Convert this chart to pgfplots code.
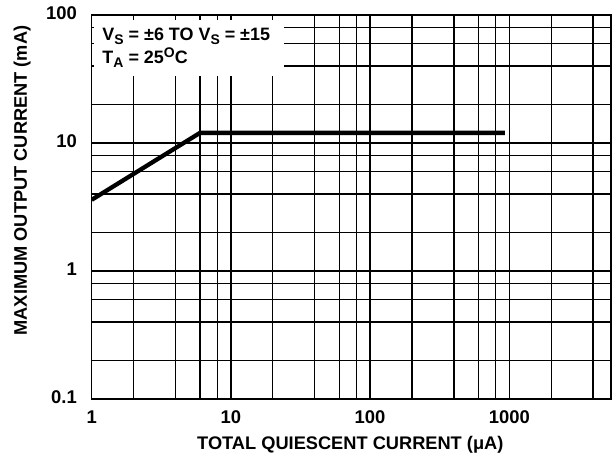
\documentclass[border=0pt]{standalone}
\usepackage{pgfplots}
\pgfplotsset{compat=1.18}
\usepackage{fontspec}
\setmainfont{Liberation Sans}
\newcommand{\sub}[1]{\raisebox{-4bp}{\fontsize{14}{14}\selectfont #1}}
\newcommand{\sps}[1]{\raisebox{5.5bp}{\fontsize{14}{14}\selectfont #1}}
\begin{document}
\begin{tikzpicture}
\path[use as bounding box] (-91.7bp,-59bp) rectangle (524.3bp,399bp);
\begin{axis}[
  at={(0,0)}, anchor=south west,
  scale only axis, width=519.3bp, height=384bp,
  xmode=log, ymode=log,
  xmin=1, xmax=5380, ymin=0.1, ymax=100,
  xtick={1,10,100,1000}, xticklabels={1,10,100,1000},
  ytick={0.1,1,10,100}, yticklabels={0.1,1,10,100},
  minor xtick={2,4,6,8,20,40,60,80,200,400,600,800,2000,4000},
  minor ytick={0.2,0.4,0.6,0.8,2,4,6,8,20,40,60,80},
  grid=both,
  major grid style={black, line width=1.3bp},
  minor grid style={black, line width=1.3bp},
  major tick length=0pt, minor tick length=0pt,
  axis line style={black, line width=1.5bp},
  /pgf/number format/assume math mode=true,
  tick label style={font=\fontsize{18.5}{18}\selectfont\bfseries, inner sep=0pt},
  xticklabel style={anchor=center, yshift=-18.5bp},
  yticklabel style={anchor=east, xshift=-14.7bp, yshift=2bp},
  xlabel={TOTAL QUIESCENT CURRENT (μA)},
  ylabel={MAXIMUM OUTPUT CURRENT (mA)},
  label style={font=\fontsize{18.3}{18}\selectfont\bfseries, inner sep=0pt},
  xlabel style={at={(axis description cs:0.498,-0.12)}, anchor=center},
  ylabel style={at={(axis description cs:-0.134,0.569)}, anchor=center},
]
\addplot[black, line width=4.3bp, line join=miter] coordinates {(1,3.6) (6,12) (930,12)};
\fill[white] (rel axis cs:0.0044,0.841) rectangle (rel axis cs:0.370,0.987);
\node[anchor=base west, inner sep=0pt, font=\fontsize{18}{18}\selectfont\bfseries]
  at (rel axis cs:0.0204,0.933) {V\sub{S} = ±6 TO V\sub{S} = ±15};
\node[anchor=base west, inner sep=0pt, font=\fontsize{18}{18}\selectfont\bfseries]
  at (rel axis cs:0.0204,0.874) {T\sub{A} = 25\sps{O}C};
\end{axis}
\end{tikzpicture}
\end{document}
